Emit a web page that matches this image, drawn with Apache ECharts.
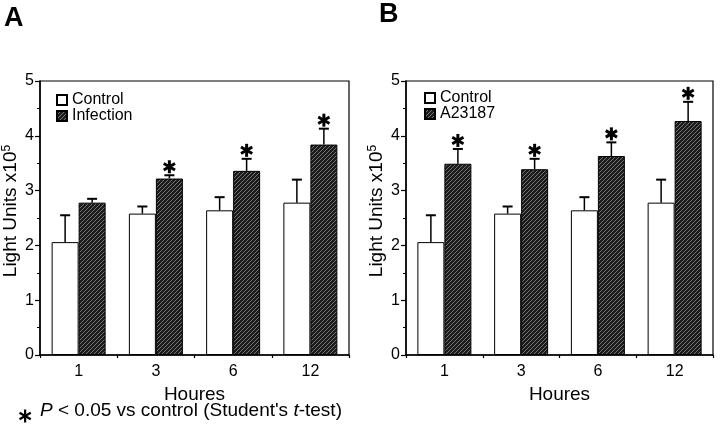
<!DOCTYPE html>
<html>
<head>
<meta charset="utf-8">
<script src="https://cdn.jsdelivr.net/npm/echarts@6/dist/echarts.min.js"></script>
<style>
html,body{margin:0;padding:0;background:#fff;}
#chart{width:720px;height:430px;}
</style>
</head>
<body>
<div id="chart"></div>
<script>
// ---- data ----
const categories = ['1', '3', '6', '12'];
const controlMean = [2.06, 2.58, 2.64, 2.78];
const controlErr = [0.49, 0.13, 0.24, 0.42];
const infectionMean = [2.78, 3.22, 3.36, 3.84];
const infectionErr = [0.07, 0.06, 0.22, 0.29];
const infectionStar = [0, 1, 1, 1];
const a23187Mean = [3.49, 3.39, 3.63, 4.27];
const a23187Err = [0.27, 0.19, 0.25, 0.35];
const a23187Star = [1, 1, 1, 1];
const yTicks = [0, 1, 2, 3, 4, 5];

const FONT = "'Liberation Sans', Arial, Helvetica, sans-serif";
const BAR_W = 27;

// hatch pattern
function makeHatch() {
  const c = document.createElement('canvas');
  const s = 4;
  c.width = s; c.height = s;
  const g = c.getContext('2d');
  g.fillStyle = '#1c1c1c';
  g.fillRect(0, 0, s, s);
  g.strokeStyle = '#8a8a8a';
  g.lineWidth = 0.8;
  g.beginPath();
  g.moveTo(0, s); g.lineTo(s, 0);
  g.moveTo(-1, 1); g.lineTo(1, -1);
  g.moveTo(s - 1, s + 1); g.lineTo(s + 1, s - 1);
  g.stroke();
  return c;
}
const hatch = { image: makeHatch(), repeat: 'repeat' };

function starLines(cx, cy, r, w) {
  const out = [];
  [90, 30, 150].forEach(function (deg) {
    const a = deg * Math.PI / 180;
    const dx = Math.cos(a) * r, dy = Math.sin(a) * r;
    out.push({
      type: 'line',
      shape: { x1: cx - dx, y1: cy - dy, x2: cx + dx, y2: cy + dy },
      style: { stroke: '#000', lineWidth: w }
    });
  });
  return out;
}

function errSeries(mean, err, star, offset, gi) {
  return {
    type: 'custom',
    xAxisIndex: gi, yAxisIndex: gi,
    z: 5,
    silent: true,
    data: mean.map(function (m, i) { return [i, m, err[i], star ? star[i] : 0]; }),
    encode: { x: 0, y: 1 },
    renderItem: function (params, api) {
      const i = api.value(0);
      const m = api.value(1), e = api.value(2), st = api.value(3);
      const base = api.coord([i, m]);
      const top = api.coord([i, m + e]);
      const px = base[0] + offset;
      const children = [
        { type: 'line', shape: { x1: px, y1: base[1], x2: px, y2: top[1] }, style: { stroke: '#000', lineWidth: 1.5 } },
        { type: 'line', shape: { x1: px - 5, y1: top[1], x2: px + 5, y2: top[1] }, style: { stroke: '#000', lineWidth: 2 } }
      ];
      if (st) {
        starLines(px, top[1] - 8.5, 6.5, 3).forEach(function (c) { children.push(c); });
      }
      return { type: 'group', children: children };
    }
  };
}

function yAxis(gi) {
  return {
    type: 'value', gridIndex: gi, min: 0, max: 5, interval: 1,
    name: 'Light Units x10{s|5}',
    nameLocation: 'middle', nameGap: 20, nameRotate: 90,
    nameTextStyle: { color: '#000', fontSize: 19, fontFamily: FONT, padding: [0, 0, 0, 14],
      rich: { s: { fontSize: 12, verticalAlign: 'top', padding: [0, 0, 7, 0], fontFamily: FONT, color: '#000' } } },
    axisLine: { show: true, lineStyle: { color: '#000', width: 1.5 } },
    axisTick: { show: true, inside: false, length: 5, lineStyle: { color: '#000', width: 1.2 } },
    minorTick: { show: true, splitNumber: 2, length: 3, lineStyle: { color: '#000', width: 1 } },
    splitLine: { show: false },
    axisLabel: { color: '#000', fontSize: 16, fontFamily: FONT, margin: 6,
      formatter: function (v) { return yTicks.indexOf(v) >= 0 ? String(v) : ''; } }
  };
}

function xAxis(gi) {
  return {
    type: 'category', gridIndex: gi, data: categories,
    name: 'Houres', nameLocation: 'middle', nameGap: 23,
    nameTextStyle: { color: '#000', fontSize: 19, fontFamily: FONT },
    axisLine: { show: true, lineStyle: { color: '#000', width: 1.5 } },
    axisTick: { show: true, length: 3, alignWithLabel: false, lineStyle: { color: '#000', width: 1.2 } },
    axisLabel: { color: '#000', fontSize: 16, fontFamily: FONT, margin: 9 }
  };
}

const chart = echarts.init(document.getElementById('chart'), null, { renderer: 'canvas' });
const option = {
  animation: false,
  backgroundColor: '#fff',
  textStyle: { fontFamily: FONT },
  grid: [
    { left: 40, top: 81, width: 309, height: 274, show: true, borderColor: '#000', borderWidth: 1.2, backgroundColor: 'transparent' },
    { left: 406, top: 81, width: 307, height: 274, show: true, borderColor: '#000', borderWidth: 1.2, backgroundColor: 'transparent' }
  ],
  xAxis: [xAxis(0), xAxis(1)],
  yAxis: [yAxis(0), yAxis(1)],
  legend: [
    { data: ['Control', 'Infection'], orient: 'vertical', left: 51, top: 87, itemWidth: 10, itemHeight: 10, itemGap: 0,
      textStyle: { color: '#000', fontSize: 16, fontFamily: FONT }, selectedMode: false, icon: 'rect' },
    { data: ['Control', 'A23187'], orient: 'vertical', left: 419, top: 85, itemWidth: 10, itemHeight: 10, itemGap: 0,
      textStyle: { color: '#000', fontSize: 16, fontFamily: FONT }, selectedMode: false, icon: 'rect' }
  ],
  series: [
    { name: 'Control', type: 'bar', xAxisIndex: 0, yAxisIndex: 0, data: controlMean, barWidth: BAR_W, barGap: '0%',
      itemStyle: { color: '#fff', borderColor: '#000', borderWidth: 1 } },
    { name: 'Infection', type: 'bar', xAxisIndex: 0, yAxisIndex: 0, data: infectionMean, barWidth: BAR_W, barGap: '0%',
      itemStyle: { color: hatch, borderColor: '#000', borderWidth: 1 } },
    { name: 'Control', type: 'bar', xAxisIndex: 1, yAxisIndex: 1, data: controlMean, barWidth: BAR_W, barGap: '0%',
      itemStyle: { color: '#fff', borderColor: '#000', borderWidth: 1 } },
    { name: 'A23187', type: 'bar', xAxisIndex: 1, yAxisIndex: 1, data: a23187Mean, barWidth: BAR_W, barGap: '0%',
      itemStyle: { color: hatch, borderColor: '#000', borderWidth: 1 } },
    errSeries(controlMean, controlErr, null, -BAR_W / 2, 0),
    errSeries(infectionMean, infectionErr, infectionStar, BAR_W / 2, 0),
    errSeries(controlMean, controlErr, null, -BAR_W / 2, 1),
    errSeries(a23187Mean, a23187Err, a23187Star, BAR_W / 2, 1)
  ],
  graphic: [
    { type: 'text', left: 4, top: 5, style: { text: 'A', font: 'bold 27px ' + FONT, fill: '#000' } },
    { type: 'text', left: 379, top: 1, style: { text: 'B', font: 'bold 27px ' + FONT, fill: '#000' } },
    { type: 'group', left: 17, top: 407, children: starLines(6.5, 6.5, 6.5, 2.2) },
    { type: 'text', left: 40, top: 401, style: {
        text: '{i|P} < 0.05 vs control (Student\'s {i|t}-test)',
        font: '19px ' + FONT, fill: '#000',
        rich: { i: { fontStyle: 'italic', fontSize: 19, fontFamily: FONT, fill: '#000' } } } }
  ]
};
chart.setOption(option);
</script>
</body>
</html>
